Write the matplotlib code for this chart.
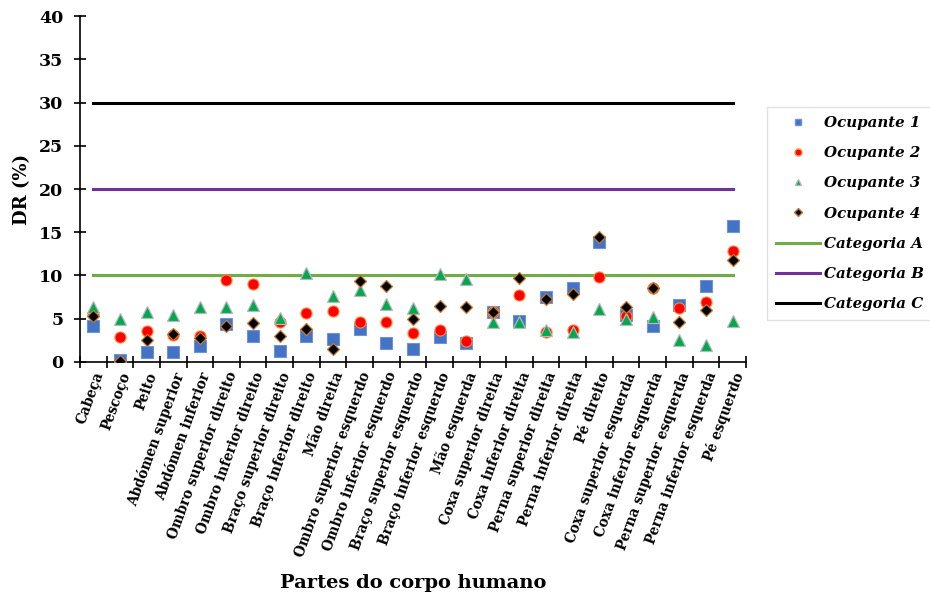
import matplotlib
matplotlib.use("Agg")
import matplotlib.pyplot as plt
from matplotlib.lines import Line2D

partes = [
    "Cabeça", "Pescoço", "Peito", "Abdómen superior", "Abdómen inferior",
    "Ombro superior direito", "Ombro inferior direito", "Braço superior direito",
    "Braço inferior direito", "Mão direita", "Ombro superior esquerdo",
    "Ombro inferior esquerdo", "Braço superior esquerdo", "Braço inferior esquerdo",
    "Mão esquerda", "Coxa superior direita", "Coxa inferior direita",
    "Perna superior direita", "Perna inferior direita", "Pé direito",
    "Coxa superior esquerda", "Coxa inferior esquerda", "Perna superior esquerda",
    "Perna inferior esquerda", "Pé esquerdo",
]

ocupante_1 = [4.1, 0.2, 1.1, 1.1, 1.8, 4.4, 3.0, 1.3, 3.0, 2.65, 3.8, 2.15, 1.45,
              2.85, 2.15, 5.8, 4.75, 7.45, 8.5, 13.85, 5.4, 4.2, 6.6, 8.8, 15.75]
ocupante_2 = [5.5, 2.85, 3.6, 3.1, 3.0, 9.5, 9.0, 4.55, 5.6, 5.9, 4.6, 4.6, 3.3,
              3.7, 2.35, 5.8, 7.75, 3.4, 3.7, 9.8, 5.25, 8.5, 6.2, 6.9, 12.8]
ocupante_3 = [6.4, 4.9, 5.8, 5.4, 6.3, 6.3, 6.55, 5.1, 10.25, 7.6, 8.3, 6.7, 6.25,
              10.2, 9.55, 4.55, 4.55, 3.7, 3.5, 6.1, 4.9, 5.15, 2.55, 1.95, 4.75]
ocupante_4 = [5.3, 0.1, 2.5, 3.2, 2.7, 4.2, 4.5, 3.0, 3.8, 1.45, 9.3, 8.8, 4.9,
              6.5, 6.4, 5.8, 9.7, 7.25, 7.8, 14.4, 6.4, 8.6, 4.6, 5.95, 11.8]

categoria_a = 10
categoria_b = 20
categoria_c = 30

serif = "DejaVu Serif"

fig = plt.figure(figsize=(9.30, 6.01), dpi=100)
ax = fig.add_axes([0.086, 0.398, 0.716, 0.575])

x = list(range(len(partes)))

# Reference category limits as constant series
ax.plot(x, [categoria_a] * len(x), color="#70AD47", lw=2.2, zorder=2)
ax.plot(x, [categoria_b] * len(x), color="#7030A0", lw=2.2, zorder=2)
ax.plot(x, [categoria_c] * len(x), color="black", lw=2.2, zorder=2)

ax.plot(x, ocupante_1, ls="none", marker="s", ms=8, mfc="#4472C4",
        mec="#6F94D6", mew=0.8, zorder=3)
ax.plot(x, ocupante_2, ls="none", marker="o", ms=8, mfc="#FF0000",
        mec="#FF8A3D", mew=0.8, zorder=4)
ax.plot(x, ocupante_3, ls="none", marker="^", ms=8, mfc="#00A850",
        mec="#B8B8B8", mew=0.9, zorder=5)
ax.plot(x, ocupante_4, ls="none", marker="D", ms=6.5, mfc="black",
        mec="#C8782E", mew=0.9, zorder=6)

ax.set_xlim(-0.5, len(partes) - 0.5)
ax.set_ylim(0, 40)
ax.set_yticks(range(0, 41, 5))
ax.set_xticks(x)
ax.set_xticklabels(partes, rotation=70, ha="right", rotation_mode="anchor",
                   fontsize=9.8, fontweight="bold", family=serif)
ax.set_xticks([i - 0.5 for i in range(len(partes) + 1)], minor=True)
ax.tick_params(axis="x", which="major", length=0, pad=6)
ax.tick_params(axis="x", which="minor", direction="inout", length=8, width=1.2)
ax.tick_params(axis="y", direction="inout", length=8, width=1.2, pad=8)
for lab in ax.get_yticklabels():
    lab.set_fontsize(12.5)
    lab.set_fontweight("bold")
    lab.set_family(serif)

for side in ("top", "right"):
    ax.spines[side].set_visible(False)
for side in ("left", "bottom"):
    ax.spines[side].set_linewidth(1.2)

ax.set_ylabel("DR (%)", fontsize=13, fontweight="bold", family=serif, labelpad=6)
fig.text(0.444, 0.03, "Partes do corpo humano", ha="center", va="center",
         fontsize=14, fontweight="bold", family=serif)

handles = [
    Line2D([], [], ls="none", marker="s", ms=5, mfc="#4472C4", mec="#6F94D6"),
    Line2D([], [], ls="none", marker="o", ms=5, mfc="#FF0000", mec="#FF8A3D"),
    Line2D([], [], ls="none", marker="^", ms=5, mfc="#00A850", mec="#B8B8B8"),
    Line2D([], [], ls="none", marker="D", ms=4, mfc="black", mec="#C8782E"),
    Line2D([], [], color="#70AD47", lw=2.2),
    Line2D([], [], color="#7030A0", lw=2.2),
    Line2D([], [], color="black", lw=2.2),
]
labels = ["Ocupante 1", "Ocupante 2", "Ocupante 3", "Ocupante 4",
          "Categoria A", "Categoria B", "Categoria C"]
leg = fig.legend(handles, labels, loc="upper left",
                 bbox_to_anchor=(0.825, 0.822),
                 prop={"family": serif, "weight": "bold", "style": "italic",
                       "size": 10.8},
                 handlelength=2.9, handletextpad=0.3, labelspacing=1.08,
                 borderpad=0.6, borderaxespad=0, frameon=True, fancybox=False)
leg.get_frame().set_edgecolor("#D9D9D9")
leg.get_frame().set_linewidth(1.0)

fig.savefig("out.png", dpi=100)
